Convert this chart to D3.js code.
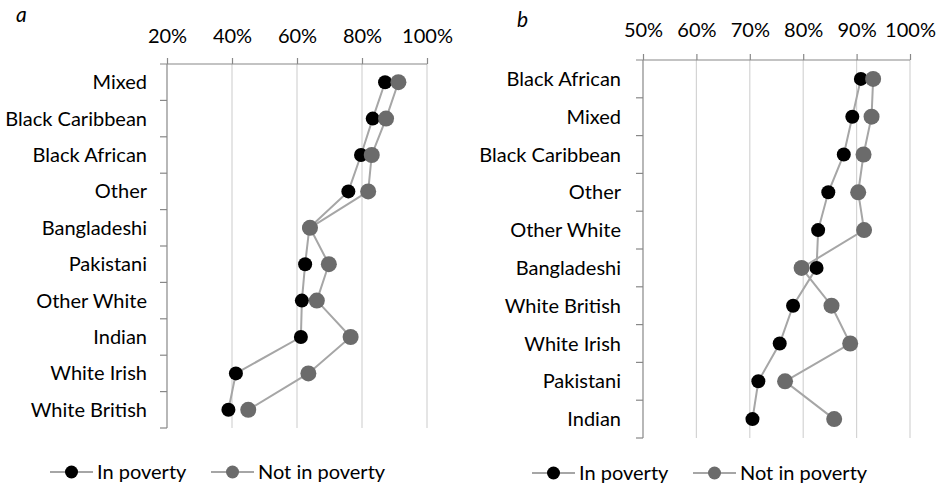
<!DOCTYPE html>
<html>
<head>
<meta charset="utf-8">
<script src="https://cdn.jsdelivr.net/npm/d3@7"></script>
<style>
  body { margin: 0; background: #fff; }
  svg text { font-family: Lato, "Open Sans", sans-serif; fill: #000; }
</style>
</head>
<body>
<div id="chart"></div>
<script>
// panel a
var groupsA = ["Mixed", "Black Caribbean", "Black African", "Other", "Bangladeshi",
	"Pakistani", "Other White", "Indian", "White Irish", "White British"];
var povertyA = [87.1, 83.3, 79.7, 75.8, 63.8, 62.5, 61.5, 61.2, 41.2, 38.9];
var notPovertyA = [91.2, 87.4, 83.0, 81.9, 64.0, 69.8, 66.1, 76.5, 63.5, 45.0];
var ticksA = [20, 40, 60, 80, 100];

// panel b
var groupsB = ["Black African", "Mixed", "Black Caribbean", "Other", "Other White",
	"Bangladeshi", "White British", "White Irish", "Pakistani", "Indian"];
var povertyB = [90.8, 89.2, 87.6, 84.7, 82.8, 82.5, 78.1, 75.6, 71.6, 70.5];
var notPovertyB = [93.1, 92.8, 91.3, 90.3, 91.4, 79.7, 85.3, 88.8, 76.6, 85.8];
var ticksB = [50, 60, 70, 80, 90, 100];

var seriesNames = ["In poverty", "Not in poverty"];

var svg = d3.select("#chart").append("svg")
	.attr("width", 938)
	.attr("height", 486);

function drawPanel(opts){
	var g = svg.append("g");
	var data = opts.groups.map(function(d, i){
		return {name: d, poor: opts.poor[i], notPoor: opts.notPoor[i]};
	});

	var x = d3.scaleLinear()
		.domain([opts.ticks[0], opts.ticks[opts.ticks.length - 1]])
		.range([opts.left, opts.right]);
	var y = d3.scaleBand()
		.domain(opts.groups)
		.range([opts.top, opts.bottom]);

	// gridlines
	g.selectAll(".grid")
		.data(opts.ticks.slice(1))
	  .enter().append("line")
		.attr("x1", d => x(d)).attr("x2", d => x(d))
		.attr("y1", opts.top).attr("y2", opts.bottom)
		.attr("stroke", "#d4d4d4")
		.attr("stroke-width", 1.2);

	// top axis
	var xAxis = d3.axisTop(x)
		.tickValues(opts.ticks)
		.tickSize(6)
		.tickFormat(d => d + "%");
	var gx = g.append("g")
		.attr("transform", "translate(0," + opts.top + ")")
		.call(xAxis);
	gx.select(".domain").remove();
	gx.selectAll(".tick line").attr("stroke", "#888").attr("stroke-width", 1.2);
	gx.selectAll(".tick text")
		.attr("y", opts.tickLabelY)
		.style("font-size", "20px");
	g.append("line")
		.attr("x1", opts.left - 7).attr("x2", x.range()[1])
		.attr("y1", opts.top).attr("y2", opts.top)
		.attr("stroke", "#888").attr("stroke-width", 1.2);

	// left axis, ticks between categories
	var bounds = opts.groups.map(d => y(d)).concat([opts.bottom]);
	g.append("line")
		.attr("x1", opts.left).attr("x2", opts.left)
		.attr("y1", opts.top).attr("y2", opts.bottom)
		.attr("stroke", "#888").attr("stroke-width", 1.2);
	g.selectAll(".ytick")
		.data(bounds.slice(1))
	  .enter().append("line")
		.attr("x1", opts.left - 7).attr("x2", opts.left)
		.attr("y1", d => d).attr("y2", d => d)
		.attr("stroke", "#888").attr("stroke-width", 1.2);

	g.selectAll(".cat")
		.data(data)
	  .enter().append("text")
		.attr("x", opts.labelRight)
		.attr("y", d => y(d.name) + y.bandwidth() / 2)
		.attr("dy", "0.35em")
		.attr("text-anchor", "end")
		.style("font-size", "20px")
		.text(d => d.name);

	// connecting lines
	var cy = d => y(d.name) + y.bandwidth() / 2;
	var linePoor = d3.line().x(d => x(d.poor)).y(cy);
	var lineNot = d3.line().x(d => x(d.notPoor)).y(cy);
	g.append("path").attr("d", linePoor(data))
		.attr("fill", "none").attr("stroke", "#a6a6a6").attr("stroke-width", 2);
	g.append("path").attr("d", lineNot(data))
		.attr("fill", "none").attr("stroke", "#a6a6a6").attr("stroke-width", 2);

	g.selectAll(".poor")
		.data(data)
	  .enter().append("circle")
		.attr("cx", d => x(d.poor)).attr("cy", cy)
		.attr("r", 7).attr("fill", "#000");
	g.selectAll(".notpoor")
		.data(data)
	  .enter().append("circle")
		.attr("cx", d => x(d.notPoor)).attr("cy", cy)
		.attr("r", 8).attr("fill", "#6b6b6b");

	// panel letter
	g.append("text")
		.attr("x", opts.letterX).attr("y", opts.letterY)
		.style("font-size", "21px")
		.style("font-style", "italic")
		.text(opts.letter);

	// legend
	var colors = ["#000", "#6b6b6b"];
	var leg = g.selectAll(".leg")
		.data(seriesNames)
	  .enter().append("g")
		.attr("transform", (d, i) => "translate(" + (opts.legendX + i * 161) + "," + opts.legendY + ")");
	leg.append("line")
		.attr("x1", 0).attr("x2", 43)
		.attr("stroke", "#a6a6a6").attr("stroke-width", 2);
	leg.append("circle")
		.attr("cx", 21.5).attr("r", 6.5)
		.attr("fill", (d, i) => colors[i]);
	leg.append("text")
		.attr("x", 47).attr("dy", "0.35em")
		.style("font-size", "20px")
		.text(d => d);
}

drawPanel({
	groups: groupsA, poor: povertyA, notPoor: notPovertyA, ticks: ticksA,
	left: 167, right: 427, top: 64, bottom: 428, labelRight: 147, tickLabelY: -21,
	letter: "a", letterX: 16, letterY: 22, legendX: 50, legendY: 472
});

drawPanel({
	groups: groupsB, poor: povertyB, notPoor: notPovertyB, ticks: ticksB,
	left: 643, right: 910, top: 60, bottom: 438, labelRight: 621, tickLabelY: -23,
	letter: "b", letterX: 517, letterY: 27, legendX: 532, legendY: 473
});
</script>
</body>
</html>
